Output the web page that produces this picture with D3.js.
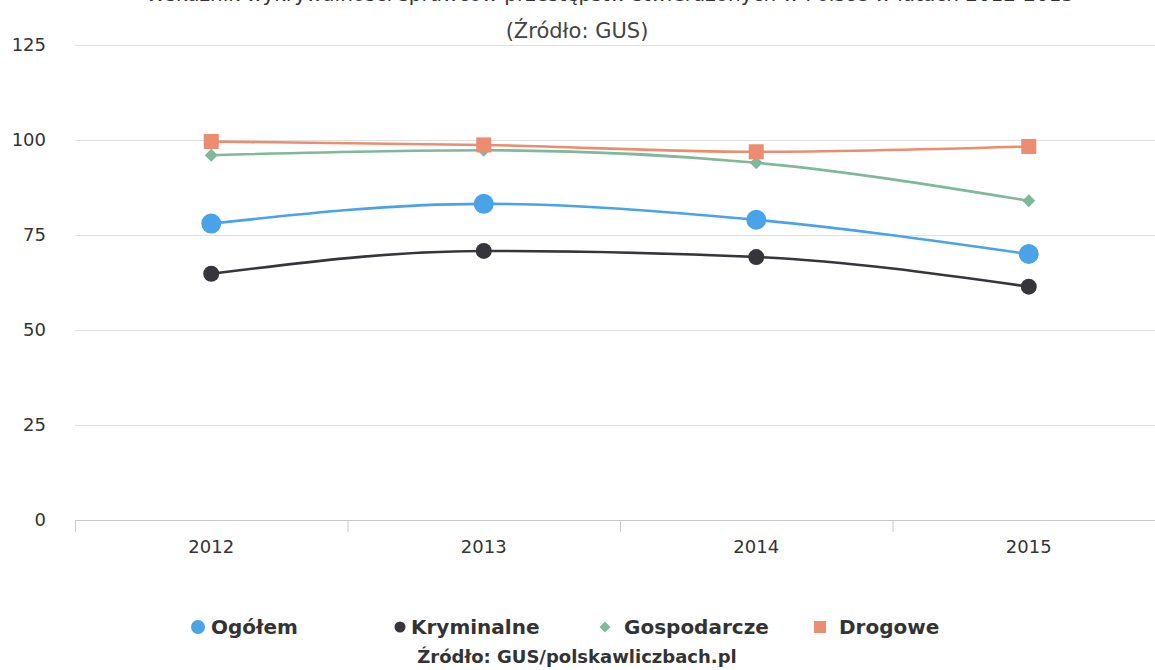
<!DOCTYPE html>
<html>
<head>
<meta charset="utf-8">
<script src="https://cdn.jsdelivr.net/npm/d3@7"></script>
<style>
  html, body { margin: 0; padding: 0; background: #fff; }
  svg { display: block; }
</style>
</head>
<body>
<svg id="chart" width="1155" height="670"></svg>
<script>
"use strict";

var years = ["2012", "2013", "2014", "2015"];
var yTicks = [0, 25, 50, 75, 100, 125];
var ogolem = [78, 83.2, 79, 70];
var kryminalne = [64.8, 70.8, 69.2, 61.4];
var gospodarcze = [96, 97.3, 94, 84];
var drogowe = [99.6, 98.7, 96.9, 98.3];

var seriesNames = ["Ogółem", "Kryminalne", "Gospodarcze", "Drogowe"];
var seriesValues = [ogolem, kryminalne, gospodarcze, drogowe];
var seriesColors = ["#4aa3e6", "#35353b", "#7fb89a", "#ec8c70"];
var seriesMarkers = ["circle", "circle", "diamond", "square"];

var sFont = "DejaVu Sans, Verdana, sans-serif";
var svg = d3.select("#chart");
var iLeft = 75, iRight = 1165, iTop = 45, iBottom = 520;

var x = d3.scaleBand().domain(years).range([iLeft, iRight]);
var y = d3.scaleLinear().domain([0, 125]).range([iBottom, iTop]);

// title: the scan cuts it off at the top edge
svg.append("text")
	.attr("x", 610).attr("y", 1)
	.attr("text-anchor", "middle")
	.attr("font-family", sFont)
	.attr("font-size", 20).attr("fill", "#333")
	.text("Wskaźnik wykrywalności sprawców przestępstw stwierdzonych w Polsce w latach 2012-2015");

svg.append("text")
	.attr("x", 577).attr("y", 38)
	.attr("text-anchor", "middle")
	.attr("font-family", sFont)
	.attr("font-size", 21).attr("fill", "#444")
	.text("(Źródło: GUS)");

// grid
svg.append("g").selectAll("line").data(yTicks).enter().append("line")
	.attr("x1", iLeft).attr("x2", 1155)
	.attr("y1", function (d) { return y(d) + 0.5; })
	.attr("y2", function (d) { return y(d) + 0.5; })
	.attr("stroke", function (d) { return d === 0 ? "#c8c8c8" : "#e0e0e0"; })
	.attr("stroke-width", 1);

// y axis labels
svg.append("g").selectAll("text").data(yTicks).enter().append("text")
	.attr("x", 46)
	.attr("y", function (d) { return y(d) + 6; })
	.attr("text-anchor", "end")
	.attr("font-family", sFont)
	.attr("font-size", 18).attr("fill", "#333")
	.text(function (d) { return d; });

// x axis ticks and labels
var gX = svg.append("g")
	.attr("transform", "translate(0," + iBottom + ")")
	.call(d3.axisBottom(x).tickSizeOuter(0).tickSize(0).tickPadding(20));
gX.select(".domain").remove();
gX.selectAll("text")
	.attr("font-family", sFont)
	.attr("font-size", 18).attr("fill", "#333");

svg.append("g").selectAll("line").data(years).enter().append("line")
	.attr("x1", function (d) { return x(d) + 0.5; })
	.attr("x2", function (d) { return x(d) + 0.5; })
	.attr("y1", iBottom).attr("y2", iBottom + 12)
	.attr("stroke", "#c8c8c8");

// series lines
var line = d3.line()
	.x(function (d, i) { return x(years[i]) + x.bandwidth() / 2; })
	.y(function (d) { return y(d); })
	.curve(d3.curveMonotoneX);

var markerSizes = [10, 8, 6.5, 7.5];

function drawMarker(g, type, cx, cy, r, color) {
	if (type === "circle") {
		g.append("circle").attr("cx", cx).attr("cy", cy).attr("r", r).attr("fill", color);
	} else if (type === "square") {
		g.append("rect").attr("x", cx - r).attr("y", cy - r)
			.attr("width", r * 2).attr("height", r * 2).attr("fill", color);
	} else {
		g.append("path")
			.attr("d", "M" + cx + "," + (cy - r) + "L" + (cx + r) + "," + cy + "L" + cx + "," + (cy + r) + "L" + (cx - r) + "," + cy + "Z")
			.attr("fill", color);
	}
}

seriesValues.forEach(function (aData, s) {
	var g = svg.append("g");
	g.append("path")
		.datum(aData)
		.attr("d", line)
		.attr("fill", "none")
		.attr("stroke", seriesColors[s])
		.attr("stroke-width", 2.6);
	aData.forEach(function (v, i) {
		drawMarker(g, seriesMarkers[s], x(years[i]) + x.bandwidth() / 2, y(v), markerSizes[s], seriesColors[s]);
	});
});

// legend
var legendX = [198, 400, 605, 820];
var legendTextX = [211, 411, 624, 839];
var legendSizes = [7, 5.5, 5.5, 6];
var gLegend = svg.append("g");
seriesNames.forEach(function (sName, s) {
	drawMarker(gLegend, seriesMarkers[s], legendX[s], 627, legendSizes[s], seriesColors[s]);
	gLegend.append("text")
		.attr("x", legendTextX[s]).attr("y", 634)
		.attr("font-family", sFont)
		.attr("font-weight", "bold")
		.attr("font-size", 20).attr("fill", "#333")
		.text(sName);
});

svg.append("text")
	.attr("x", 577).attr("y", 663)
	.attr("text-anchor", "middle")
	.attr("font-family", sFont)
	.attr("font-weight", "bold")
	.attr("font-size", 18).attr("fill", "#333")
	.text("Źródło: GUS/polskawliczbach.pl");
</script>
</body>
</html>
